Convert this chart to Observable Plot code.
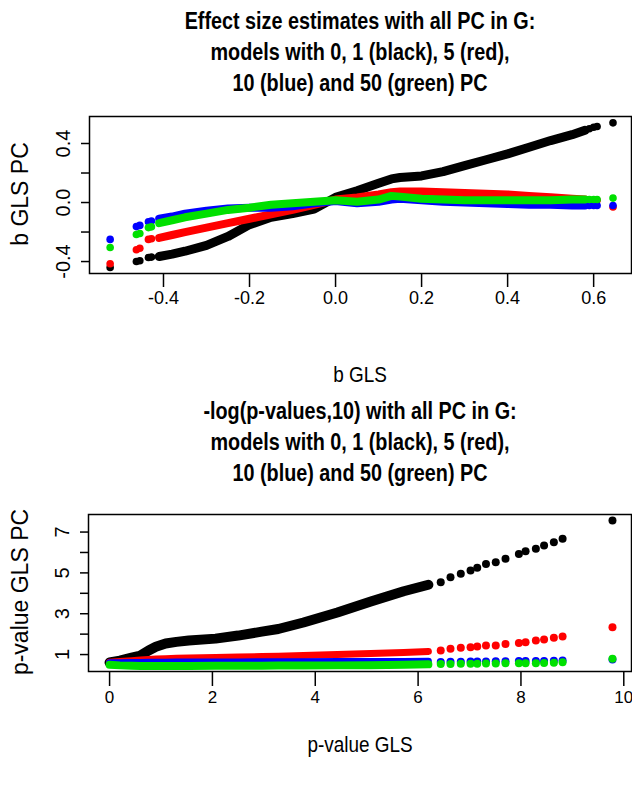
<!DOCTYPE html>
<html><head><meta charset="utf-8">
<script src="https://cdn.jsdelivr.net/npm/d3@7"></script>
<script src="https://cdn.jsdelivr.net/npm/@observablehq/plot@0.6"></script>
<style>
body{margin:0;background:#fff;}
#wrap{position:relative;width:632px;height:786px;font-family:"Liberation Sans",Arial,sans-serif;overflow:hidden;background:#fff;color:#000;}
.title{position:absolute;left:89px;width:542px;text-align:center;font-weight:bold;font-size:23px;line-height:31px;transform:scaleX(0.86);}
.xlab{position:absolute;left:89px;width:542px;text-align:center;font-size:22px;line-height:24px;transform:scaleX(0.86);}
.ylab{position:absolute;font-size:23px;line-height:24px;white-space:nowrap;transform:translate(-50%,-50%) rotate(-90deg);}
.plot{position:absolute;left:0;}
</style></head>
<body>
<div id="wrap">
  <div class="title" style="top:6px">Effect size estimates with all PC in G:<br>models with 0, 1 (black), 5 (red),<br>10 (blue) and 50 (green) PC</div>
  <div class="ylab" style="left:20px;top:194px">b GLS PC</div>
  <div class="xlab" style="top:363px">b GLS</div>
  <div class="title" style="top:396px">-log(p-values,10) with all PC in G:<br>models with 0, 1 (black), 5 (red),<br>10 (blue) and 50 (green) PC</div>
  <div class="ylab" style="left:20px;top:592px">p-value GLS PC</div>
  <div class="xlab" style="top:733px">p-value GLS</div>
</div>
<script>
// ---------- Top panel: effect sizes ----------
const topXTicks = [-0.4, -0.2, 0, 0.2, 0.4, 0.6];
const topYTicks = [-0.4, -0.2, 0, 0.2, 0.4];
const topYLabels = [-0.4, 0, 0.4];

// dense part (shared x)
const topX     = [-0.41, -0.38, -0.35, -0.3, -0.25, -0.2, -0.15, -0.1, -0.05, 0, 0.05, 0.1, 0.13, 0.15, 0.2, 0.25, 0.3, 0.35, 0.4, 0.45, 0.5, 0.55, 0.58];
const topBlack = [-0.366, -0.35, -0.33, -0.29, -0.23, -0.15, -0.1, -0.075, -0.045, 0.035, 0.08, 0.13, 0.16, 0.17, 0.18, 0.21, 0.25, 0.29, 0.33, 0.375, 0.42, 0.46, 0.49];
const topRed   = [-0.24, -0.22, -0.2, -0.17, -0.14, -0.11, -0.08, -0.05, -0.015, 0.02, 0.035, 0.055, 0.07, 0.075, 0.075, 0.07, 0.065, 0.06, 0.055, 0.045, 0.035, 0.025, 0.02];
const topBlue  = [-0.11, -0.095, -0.075, -0.055, -0.04, -0.035, -0.035, -0.025, -0.005, 0.01, -0.005, 0.005, 0.02, 0.025, 0.015, 0.005, 0, -0.005, -0.01, -0.015, -0.015, -0.02, -0.02];
const topGreen = [-0.14, -0.12, -0.1, -0.075, -0.05, -0.035, -0.015, -0.005, 0.005, 0.015, 0.005, 0.02, 0.045, 0.04, 0.025, 0.02, 0.015, 0.015, 0.015, 0.015, 0.015, 0.02, 0.02];

// isolated points
const topSX     = [-0.524, -0.463, -0.455, -0.435, -0.428, 0.59, 0.6, 0.608, 0.645];
const topSBlack = [-0.44, -0.40, -0.395, -0.373, -0.37, 0.5, 0.51, 0.515, 0.54];
const topSRed   = [-0.415, -0.32, -0.31, -0.25, -0.245, 0.015, 0.015, 0.015, -0.03];
const topSBlue  = [-0.25, -0.163, -0.155, -0.13, -0.125, -0.02, -0.02, -0.02, -0.02];
const topSGreen = [-0.305, -0.217, -0.21, -0.17, -0.165, 0.02, 0.02, 0.02, 0.03];

// ---------- Bottom panel: -log10 p-values ----------
const botXTicks = [0, 2, 4, 6, 8, 10];
const botYTicks = [1, 2, 3, 4, 5, 6, 7];
const botYLabels = [1, 3, 5, 7];

const botX     = [0, 0.2, 0.43, 0.6, 0.76, 0.9, 1.09, 1.3, 1.54, 2.06, 2.5, 2.96, 3.28, 3.77, 4.43, 5.08, 5.72, 6.2];
const botBlack = [0.61, 0.7, 0.85, 0.95, 1.2, 1.38, 1.54, 1.62, 1.69, 1.78, 1.93, 2.12, 2.25, 2.57, 3.06, 3.6, 4.1, 4.42];
const botRed   = [0.62, 0.66, 0.7, 0.73, 0.76, 0.78, 0.8, 0.82, 0.83, 0.86, 0.88, 0.9, 0.92, 0.95, 1.0, 1.05, 1.1, 1.15];
const botBlue  = [0.6, 0.6, 0.61, 0.61, 0.62, 0.62, 0.62, 0.63, 0.63, 0.64, 0.64, 0.65, 0.65, 0.65, 0.66, 0.66, 0.66, 0.67];
const botGreen = [0.5, 0.47, 0.45, 0.44, 0.44, 0.44, 0.44, 0.44, 0.44, 0.45, 0.45, 0.45, 0.46, 0.46, 0.47, 0.48, 0.5, 0.52];

const botSX     = [6.44, 6.63, 6.83, 7.02, 7.15, 7.32, 7.51, 7.70, 7.96, 8.09, 8.29, 8.45, 8.64, 8.81, 9.78];
const botSBlack = [4.54, 4.79, 4.96, 5.12, 5.25, 5.44, 5.52, 5.69, 5.93, 6.06, 6.18, 6.34, 6.50, 6.67, 7.57];
const botSRed   = [1.2, 1.28, 1.33, 1.36, 1.39, 1.44, 1.44, 1.52, 1.57, 1.60, 1.69, 1.74, 1.82, 1.88, 2.34];
const botSBlue  = [0.64, 0.65, 0.65, 0.66, 0.66, 0.66, 0.67, 0.67, 0.68, 0.68, 0.68, 0.69, 0.70, 0.71, 0.76];
const botSGreen = [0.54, 0.54, 0.55, 0.55, 0.55, 0.56, 0.56, 0.57, 0.57, 0.58, 0.58, 0.59, 0.60, 0.62, 0.79];

const COLORS = {black: "#000000", red: "#ff0000", blue: "#0000ff", green: "#00e000"};

function rows(xs, ys) { return ys.map((y, i) => ({x: xs[i], y})); }
function band(xs, ys, color, w) {
  return Plot.line(rows(xs, ys), {x: "x", y: "y", stroke: color, strokeWidth: w, strokeLinecap: "round", strokeLinejoin: "round"});
}
function pts(xs, ys, color, r) {
  return Plot.dot(rows(xs, ys), {x: "x", y: "y", fill: color, r});
}

const style = {fontFamily: "'Liberation Sans', Arial, sans-serif", color: "#000", background: "transparent", overflow: "visible"};

const p1 = Plot.plot({
  width: 632, height: 220,
  marginTop: 16, marginBottom: 47, marginLeft: 89, marginRight: 1,
  x: {domain: [-0.572, 0.688]},
  y: {domain: [-0.481, 0.583]},
  style,
  marks: [
    Plot.frame({stroke: "#000", strokeWidth: 1.5}),
    Plot.axisX({ticks: topXTicks, tickSize: 14, tickPadding: 4, tickFormat: d => d.toFixed(1), label: null, fontSize: 18, strokeWidth: 1.5}),
    Plot.axisY({ticks: topYTicks, tickSize: 8, tickRotate: -90, tickPadding: 12, tickFormat: d => topYLabels.includes(d) ? d.toFixed(1) : "", label: null, fontSize: 20, strokeWidth: 1.5}),
    band(topX, topBlack, COLORS.black, 9), pts(topSX, topSBlack, COLORS.black, 3.8),
    band(topX, topRed, COLORS.red, 8), pts(topSX, topSRed, COLORS.red, 3.8),
    band(topX, topBlue, COLORS.blue, 8), pts(topSX, topSBlue, COLORS.blue, 3.8),
    band(topX, topGreen, COLORS.green, 8), pts(topSX, topSGreen, COLORS.green, 3.8)
  ]
});

const p2 = Plot.plot({
  width: 632, height: 220,
  marginTop: 14, marginBottom: 49, marginLeft: 88, marginRight: 1,
  x: {domain: [-0.41, 10.15]},
  y: {domain: [0.17, 7.86]},
  style,
  marks: [
    Plot.frame({stroke: "#000", strokeWidth: 1.5}),
    Plot.axisX({ticks: botXTicks, tickSize: 15, tickPadding: 4, tickFormat: d => String(d), label: null, fontSize: 17, strokeWidth: 1.5}),
    Plot.axisY({ticks: botYTicks, tickSize: 8, tickRotate: -90, tickPadding: 12, tickFormat: d => botYLabels.includes(d) ? String(d) : "", label: null, fontSize: 20, strokeWidth: 1.5}),
    band(botX, botBlack, COLORS.black, 10), pts(botSX, botSBlack, COLORS.black, 4),
    band(botX, botRed, COLORS.red, 7), pts(botSX, botSRed, COLORS.red, 4),
    band(botX, botBlue, COLORS.blue, 7), pts(botSX, botSBlue, COLORS.blue, 4),
    band(botX, botGreen, COLORS.green, 8), pts(botSX, botSGreen, COLORS.green, 4)
  ]
});

const wrap = document.getElementById("wrap");
p1.classList.add("plot"); p1.style.top = "100px";
p2.classList.add("plot"); p2.style.top = "500px";
wrap.appendChild(p1);
wrap.appendChild(p2);
</script>
</body></html>
